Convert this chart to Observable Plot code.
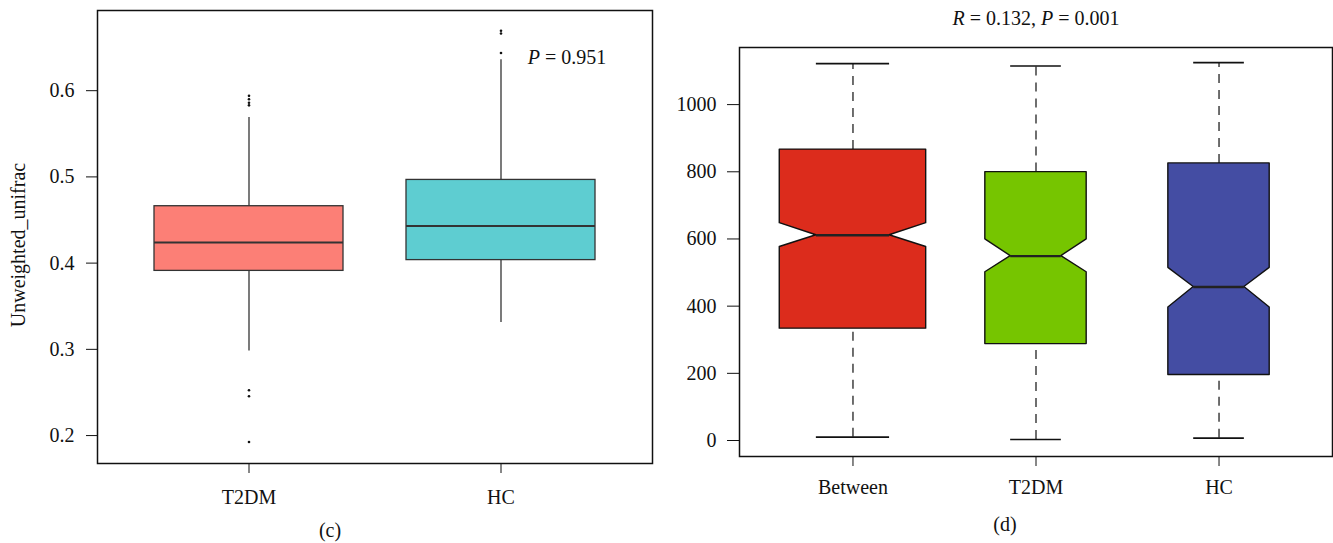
<!DOCTYPE html>
<html><head><meta charset="utf-8">
<script src="https://cdn.jsdelivr.net/npm/d3@7"></script>
<script src="https://cdn.jsdelivr.net/npm/@observablehq/plot@0.6"></script>
<style>
body{margin:0;background:#fff;}
#wrap{position:relative;width:1333px;height:543px;overflow:hidden;font-family:"Liberation Serif","Times New Roman",serif;color:#111;}
#wrap svg, #wrap svg text{font-family:"Liberation Serif","Times New Roman",serif !important;}
.panel{position:absolute;top:0;}
.lbl{position:absolute;font-size:20px;white-space:nowrap;transform:translate(-50%,-50%);line-height:1;}
.rot{transform:translate(-50%,-50%) rotate(-90deg);}
</style></head><body><div id="wrap"></div>
<script>
// ---- Panel (c): Unweighted UniFrac distances ----
const leftGroups = ["T2DM", "HC"];
const leftLower  = [0.298, 0.331];
const leftQ1     = [0.391, 0.4035];
const leftMedian = [0.424, 0.443];
const leftQ3     = [0.466, 0.4965];
const leftUpper  = [0.569, 0.636];
const leftOutliers = [
  [0.594, 0.590, 0.586, 0.583, 0.2526, 0.2456, 0.1925],
  [0.6695, 0.6664, 0.6437]
];
const leftTicks = [0.2, 0.3, 0.4, 0.5, 0.6];
const leftPText = "0.951";

// ---- Panel (d): ANOSIM rank distances ----
const rightGroups = ["Between", "T2DM", "HC"];
const pairCounts  = [576, 276, 276];   // estimated number of pairs per group (varwidth)
const rLower     = [10, 3, 7];
const rQ1        = [333, 287, 195];
const rNotchLow  = [576, 501, 396];
const rMedian    = [611, 549, 457];
const rNotchHigh = [647, 599, 514];
const rQ3        = [866, 799, 825];
const rUpper     = [1122, 1115, 1125];
const rightTicks = [0, 200, 400, 600, 800, 1000];
const rightR = "0.132", rightP = "0.001";

// styles
const leftColors  = ["#FC7F76", "#5ECDD1"];
const rightColors = ["#DC2C1C", "#76C500", "#444DA3"];
const font = "Liberation Serif";

const wrap = document.getElementById("wrap");

// ---------- left panel ----------
const leftRows = leftGroups.map((g, i) => ({
  group: g, lower: leftLower[i], q1: leftQ1[i], median: leftMedian[i], q3: leftQ3[i], upper: leftUpper[i]
}));
const leftOut = leftGroups.flatMap((g, i) => leftOutliers[i].map(v => ({group: g, value: v})));

const left = Plot.plot({
  width: 660, height: 510,
  marginTop: 10, marginBottom: 47, marginLeft: 97, marginRight: 8,
  style: {fontFamily: font, fontSize: "20px", color: "#111", background: "transparent"},
  x: {type: "band", domain: leftGroups, paddingInner: 0.25, paddingOuter: 0.222, label: null},
  y: {domain: [0.1676, 0.693], label: null},
  color: {domain: leftGroups, range: leftColors},
  marks: [
    Plot.ruleX(leftRows, {x: "group", y1: "lower", y2: "q1", stroke: "#333", strokeWidth: 1.3}),
    Plot.ruleX(leftRows, {x: "group", y1: "q3", y2: "upper", stroke: "#333", strokeWidth: 1.3}),
    Plot.barY(leftRows, {x: "group", y1: "q1", y2: "q3", fill: "group", stroke: "#333", strokeWidth: 1.3}),
    Plot.tickY(leftRows, {x: "group", y: "median", stroke: "#333", strokeWidth: 2}),
    Plot.dot(leftOut, {x: "group", y: "value", r: 1.3, fill: "#111", stroke: null}),
    Plot.axisY({ticks: leftTicks, tickSize: 11, tickPadding: 12, tickFormat: d3.format(".1f"), fontSize: 20, fontFamily: font, label: null}),
    Plot.axisX({tickSize: 10, tickPadding: 16, fontSize: 20, fontFamily: font, label: null}),
    Plot.frame({stroke: "#111", strokeWidth: 1.5})
  ]
});
const lp = document.createElement("div");
lp.className = "panel"; lp.style.left = "0px";
lp.appendChild(left);
wrap.appendChild(lp);

// ---------- right panel ----------
const maxN = d3.max(pairCounts);
const rightRows = rightGroups.map((g, i) => ({
  group: g, pos: i + 1, hw: 0.4 * Math.sqrt(pairCounts[i] / maxN),
  lower: rLower[i], q1: rQ1[i], nlo: rNotchLow[i], median: rMedian[i], nhi: rNotchHigh[i], q3: rQ3[i], upper: rUpper[i]
}));
const outline = rightRows.flatMap(d => [
  {group: d.group, y: d.q1,     x1: d.pos - d.hw,     x2: d.pos + d.hw},
  {group: d.group, y: d.nlo,    x1: d.pos - d.hw,     x2: d.pos + d.hw},
  {group: d.group, y: d.median, x1: d.pos - d.hw / 2, x2: d.pos + d.hw / 2},
  {group: d.group, y: d.nhi,    x1: d.pos - d.hw,     x2: d.pos + d.hw},
  {group: d.group, y: d.q3,     x1: d.pos - d.hw,     x2: d.pos + d.hw}
]);

const right = Plot.plot({
  width: 673, height: 500,
  marginTop: 47, marginBottom: 44, marginLeft: 79, marginRight: 1,
  style: {fontFamily: font, fontSize: "20px", color: "#111", background: "transparent"},
  x: {domain: [0.38, 3.62], label: null},
  y: {domain: [-47.6, 1170], label: null},
  color: {domain: rightGroups, range: rightColors},
  marks: [
    Plot.ruleX(rightRows, {x: "pos", y1: "lower", y2: "q1", stroke: "#222", strokeWidth: 1.3, strokeDasharray: "9,7"}),
    Plot.ruleX(rightRows, {x: "pos", y1: "q3", y2: "upper", stroke: "#222", strokeWidth: 1.3, strokeDasharray: "9,7"}),
    Plot.ruleY(rightRows, {y: "lower", x1: d => d.pos - d.hw / 2, x2: d => d.pos + d.hw / 2, stroke: "#111", strokeWidth: 1.6}),
    Plot.ruleY(rightRows, {y: "upper", x1: d => d.pos - d.hw / 2, x2: d => d.pos + d.hw / 2, stroke: "#111", strokeWidth: 1.6}),
    Plot.areaX(outline, {y: "y", x1: "x1", x2: "x2", z: "group", fill: "group", stroke: "#111", strokeWidth: 1.4, curve: "linear"}),
    Plot.ruleY(rightRows, {y: "median", x1: d => d.pos - d.hw / 2, x2: d => d.pos + d.hw / 2, stroke: "#222", strokeWidth: 2.4}),
    Plot.axisY({ticks: rightTicks, tickSize: 12, tickPadding: 11, tickFormat: d3.format("d"), fontSize: 20, fontFamily: font, label: null}),
    Plot.axisX({ticks: rightGroups.map((g, i) => i + 1), tickFormat: d => rightGroups[d - 1], tickSize: 10, tickPadding: 13, fontSize: 20, fontFamily: font, label: null}),
    Plot.frame({stroke: "#111", strokeWidth: 1.5})
  ]
});
const rp = document.createElement("div");
rp.className = "panel"; rp.style.left = "660px";
rp.appendChild(right);
wrap.appendChild(rp);

// ---------- texts ----------
function addLabel(html, x, y, extra) {
  const d = document.createElement("div");
  d.className = "lbl" + (extra ? " " + extra : "");
  d.style.left = x + "px"; d.style.top = y + "px";
  d.innerHTML = html;
  wrap.appendChild(d);
}
addLabel("Unweighted_unifrac", 18, 245, "rot");
addLabel("<i>P</i> = " + leftPText, 567, 57);
addLabel("<i>R</i> = " + rightR + ", <i>P</i> = " + rightP, 1036, 18);
addLabel("(c)", 330, 530);
addLabel("(d)", 1005, 524);
</script></body></html>
